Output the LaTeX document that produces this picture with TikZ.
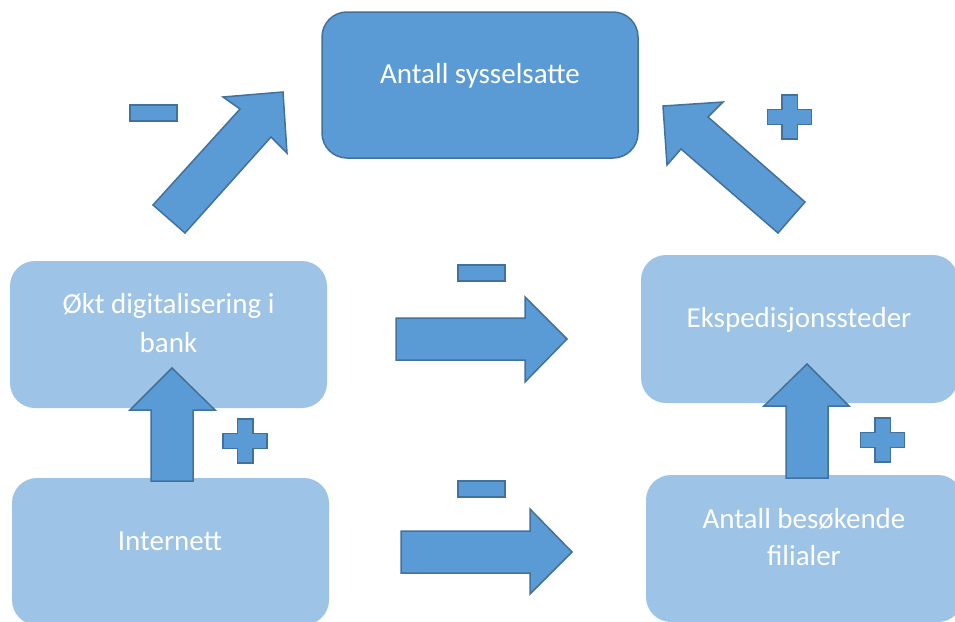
\documentclass[tikz,border=0pt]{standalone}
\usepackage{fontspec}
\setmainfont{Carlito}
\definecolor{darkfill}{HTML}{5B9BD5}
\definecolor{darkedge}{HTML}{41719C}
\definecolor{lightfill}{HTML}{9DC3E6}
\begin{document}
\begin{tikzpicture}[x=1pt,y=-1pt,
  darkbox/.style={draw=darkedge,fill=darkfill,line width=1.5pt,rounded corners=25pt,inner sep=0pt},
  lightbox/.style={fill=lightfill,rounded corners=25pt,inner sep=0pt},
  lbl/.style={text=white,font=\fontsize{29}{38}\selectfont,align=center,inner sep=0pt,anchor=base},
  blockarrow/.style={draw=darkedge,fill=darkfill,line width=1.5pt,line join=miter},
  sign/.style={draw=darkedge,fill=darkfill,line width=1.5pt},
  plussign/.pic={\draw[sign] (-7.75,-22) -- (7.75,-22) -- (7.75,-7.5) -- (22,-7.5) -- (22,7.5) -- (7.75,7.5) -- (7.75,22) -- (-7.75,22) -- (-7.75,7.5) -- (-22,7.5) -- (-22,-7.5) -- (-7.75,-7.5) -- cycle;}
]
\useasboundingbox (0,0) rectangle (955,621);
\clip (0,0) rectangle (955,621);
% boxes
\node[darkbox,minimum width=316pt,minimum height=146pt] (sys) at (480,85) {};
\node[lightbox,minimum width=317pt,minimum height=147pt] (dig) at (168.5,334.5) {};
\node[lightbox,minimum width=317pt,minimum height=147pt] (inet) at (170.5,551.5) {};
\node[lightbox,minimum width=317pt,minimum height=148pt] (eksp) at (799.5,329) {};
\node[lightbox,minimum width=317pt,minimum height=147pt] (bes) at (804.5,548.5) {};
% texts
\node[lbl] (tsys) at (480,83) {Antall sysselsatte};
\node[lbl] (tdig1) at (168.5,313) {Økt digitalisering i};
\node[lbl] (tdig2) at (168.5,352) {bank};
\node[lbl] (tinet) at (170,550) {Internett};
\node[lbl] (teksp) at (799,327) {Ekspedisjonssteder};
\node[lbl] (tbes1) at (804,528) {Antall besøkende};
\node[lbl] (tbes2) at (804,565) {filialer};
% block arrows
\draw[blockarrow] (153,205) -- (240,109) -- (223,97) -- (283,92) -- (287,153) -- (271,137) -- (185,233) -- cycle;
\draw[blockarrow] (663,106) -- (723,102) -- (708,117) -- (805,202) -- (778,233) -- (681,149) -- (667,165) -- cycle;
\draw[blockarrow] (151,481) -- (151,410) -- (130,410) -- (172,368) -- (215,410) -- (193,410) -- (193,481) -- cycle;
\draw[blockarrow] (786,478) -- (786,406) -- (764,406) -- (807,364) -- (849,406) -- (828,406) -- (828,478) -- cycle;
\draw[blockarrow] (396,318) -- (525,318) -- (525,297) -- (567,339) -- (525,382) -- (525,360) -- (396,360) -- cycle;
\draw[blockarrow] (401,531) -- (530,531) -- (530,509) -- (572,552) -- (530,594) -- (530,573) -- (401,573) -- cycle;
% signs
\draw[sign] (130,105) rectangle (177,121);
\draw[sign] (458,265) rectangle (505,281);
\draw[sign] (458,481) rectangle (505,497);
\pic at (245,441) {plussign};
\pic at (882.5,440) {plussign};
\pic at (789.5,117) {plussign};
\end{tikzpicture}
\end{document}
